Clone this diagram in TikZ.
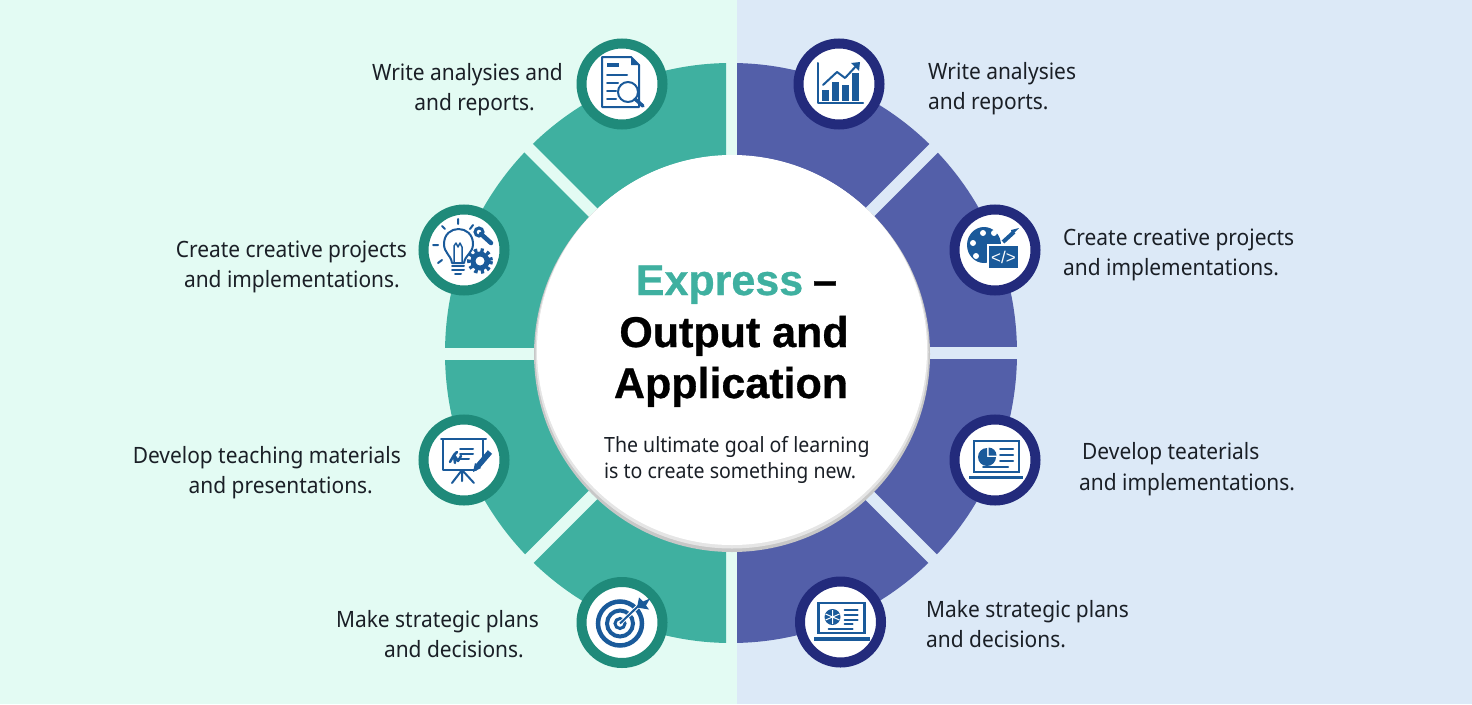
\documentclass[tikz,border=0pt]{standalone}
\usepackage{fontspec}
\setmainfont[FakeStretch=0.93]{Noto Sans}
\newfontfamily\titlefont[BoldFeatures={FakeBold=0.7}]{Liberation Sans}
\usepackage{xcolor}
\definecolor{mintbg}{HTML}{E3FBF3}
\definecolor{skybg}{HTML}{DCE9F7}
\definecolor{tealseg}{HTML}{3FB0A0}
\definecolor{blueseg}{HTML}{535FA9}
\definecolor{tealring}{HTML}{1F8A7A}
\definecolor{navyring}{HTML}{232B7C}
\definecolor{iconblue}{HTML}{1A5A9A}
\definecolor{inktext}{HTML}{1A1F26}
\tikzset{
  ringL/.style={circle,draw=tealring,fill=white,line width=10pt,minimum size=81pt,inner sep=0pt},
  ringR/.style={circle,draw=navyring,fill=white,line width=10pt,minimum size=81pt,inner sep=0pt},
  lineW/.style={anchor=base west,inner sep=0pt,text=inktext,font=\fontsize{22.5}{27}\selectfont},
  lineE/.style={anchor=base east,inner sep=0pt,text=inktext,font=\fontsize{22.5}{27}\selectfont},
  goalline/.style={anchor=base west,inner sep=0pt,text=inktext,font=\fontsize{21}{26}\selectfont},
  titleline/.style={anchor=base,inner sep=0pt,font=\titlefont\bfseries\fontsize{43}{50}\selectfont},
  gapL/.style={mintbg,line width=12pt},
  gapR/.style={skybg,line width=12pt},
  iconline/.style={iconblue,line width=2pt,line cap=round,line join=round},
  docicon/.pic={
    \draw[iconline] (9,-27) -- (-20,-27) -- (-20,23) -- (17,23) -- (17,-19) -- cycle;
    \fill[iconblue] (9,-27) -- (17,-19) -- (9,-19) -- cycle;
    \fill[iconblue] (-15,-21) rectangle (-3,-17);
    \draw[iconline] (-15,-9) -- (5,-9) (-15,-1) -- (-4,-1) (-15,7) -- (-6,7) (-15,15) -- (-6,15);
    \draw[iconline,fill=white] (6,8) circle (10);
    \draw[iconblue,line width=3.5pt,line cap=round] (13,15) -- (21,22);
  },
  bulbicon/.pic={
    \draw[iconline] (-12,13) .. controls (-13,5) and (-20,3) .. (-20,-6) .. controls (-20,-26) and (9,-26) .. (9,-6) .. controls (9,3) and (1,5) .. (0,13) -- cycle;
    \draw[iconline,line width=1.5pt] (-10,12) -- (-10,-4) -- (-8,-7) -- (-6,-3) -- (-4,-7) -- (-2,-3) -- (-2,12);
    \draw[iconline] (-12,16) -- (0,16) (-12,20) -- (0,20) (-9,24) -- (-3,24);
    \draw[iconline] (-6,-31) -- (-6,-26) (-22,-24) -- (-19,-21) (9,-25) -- (6,-21) (-31,-5) -- (-26,-5) (-26,13) -- (-22,10);
    \draw[iconblue,line width=4.5pt,line cap=round] (17,-16) -- (27,-7);
    \draw[iconblue,line width=3pt] (15,-18) circle (4);
    \draw[iconblue,line width=5pt,dash pattern=on 3.2pt off 3pt] (16,11) circle (10.5);
    \draw[iconblue,line width=5pt] (16,11) circle (7);
  },
  boardicon/.pic={
    \draw[iconline] (-23,-21) -- (22,-21);
    \draw[iconline] (-21,-21) -- (-21,10) -- (12,10) (19,-21) -- (19,-3);
    \draw[iconline] (-2,10) -- (-12,23) (-2,10) -- (10,23) (-2,10) -- (-2,21);
    \draw[iconline] (-4,-11) -- (9,-11) (-4,-6) -- (9,-6) (-4,-1) -- (5,-1);
    \draw[iconline,line width=2.5pt] (-14,2) -- (-10,-5) -- (-6,1) -- (-3,-4) (-9,3) -- (-10,-5) -- (-7,-8);
    \draw[iconblue,line width=5.5pt] (14,6) -- (26,-8);
    \fill[iconblue] (9,12) -- (11,3) -- (17,8) -- cycle;
  },
  targeticon/.pic={
    \draw[iconblue,line width=4.5pt] (-2,1) circle (22);
    \draw[iconblue,line width=4pt] (-2,1) circle (13);
    \draw[iconblue,line width=3pt] (-2,1) circle (5);
    \draw[white,line width=4pt] (-2,1) -- (20,-20);
    \draw[iconblue,line width=2pt] (-2,1) -- (20,-20);
    \fill[iconblue] (15,-15) -- (17,-25) -- (21,-21) -- (28,-24) -- (24,-17) -- (27,-13) -- cycle;
  },
  barsicon/.pic={
    \draw[iconline] (-21,-21) -- (-21,19) -- (24,19);
    \fill[iconblue] (-17,6) rectangle (-10,17);
    \fill[iconblue] (-7,-2) rectangle (0,17);
    \fill[iconblue] (3,1) rectangle (10,17);
    \fill[iconblue] (13,-11) rectangle (20,17);
    \draw[iconline] (-16,1) -- (-2,-12) -- (6,-6) -- (19,-20);
    \fill[iconblue] (21,-22) -- (12,-21) -- (20,-13) -- cycle;
  },
  paleticon/.pic={
    \fill[iconblue] (-11,-5) ellipse [x radius=17,y radius=18];
    \fill[white] (-1,-17) circle (3) (-12,-17) circle (3) (-22,-7) circle (3) (-19,6) circle (3);
    \fill[iconblue,draw=white,line width=2pt] (-7,-5) rectangle (24,19);
    \draw[iconblue,line width=4pt] (8,-8) -- (19,-18);
    \fill[iconblue] (17,-15) -- (24,-22) -- (16,-20) -- cycle;
    \node[text=white,inner sep=0pt,font=\titlefont\fontsize{17}{17}\selectfont] (codetag) at (8.5,7) {</>};
  },
  pieicon/.pic={
    \draw[iconblue,line width=2.5pt] (-21,12) -- (-21,-19) -- (24,-19) -- (24,12) -- cycle;
    \fill[iconblue] (-26,16) rectangle (28,19);
    \fill[iconblue] (-8,-3) -- ++(9,0) arc[start angle=0,end angle=270,radius=9] -- cycle;
    \fill[iconblue] (-6.5,-4.5) -- ++(0,-8) arc[start angle=-90,end angle=0,radius=8] -- cycle;
    \draw[iconline] (5,-11) -- (18,-11) (5,-5) -- (18,-5) (5,1) -- (18,1) (-12,7) -- (13,7);
  },
  dashicon/.pic={
    \draw[iconblue,line width=2.5pt] (-22,11) -- (-22,-19) -- (24,-19) -- (24,11) -- cycle;
    \fill[iconblue] (-27,15) rectangle (29,19);
    \fill[iconblue] (-8,-5) circle (8);
    \draw[white,line width=1pt] (-15,-8) -- (-1,-2) (-8,-12) -- (-8,2) (-15,-2) -- (-1,-8);
    \draw[iconline] (4,-12) -- (17,-12) (4,-7) -- (17,-7) (4,-2) -- (17,-2) (4,2) -- (12,2) (-12,7) -- (12,7);
  }
}
\begin{document}
\begin{tikzpicture}[x=1pt,y=-1pt]
  \useasboundingbox (0,0) rectangle (1472,704);
  % background halves
  \fill[mintbg] (0,0) rectangle (737,704);
  \fill[skybg] (737,0) rectangle (1472,704);
  % ring, cut in two
  \begin{scope}
    \clip (0,0) rectangle (726,704);
    \fill[tealseg] (731,353) ellipse [x radius=286,y radius=290];
  \end{scope}
  \begin{scope}
    \clip (737,0) rectangle (1472,704);
    \fill[blueseg] (731,353) ellipse [x radius=286,y radius=290];
  \end{scope}
  % gaps between the segments
  \draw[gapL] (430,353.5) -- (600,353.5);
  \draw[gapR] (860,352.5) -- (1030,352.5);
  \draw[gapL] (600,219.5) -- (510,129.5);
  \draw[gapR] (862,220) -- (952,130);
  \draw[gapL] (600,488) -- (510,578);
  \draw[gapR] (862,488) -- (952,578);
  % centre disc
  \fill[black!22] (732,354) circle (198);
  \fill[black!10] (732,352) circle (196.5);
  \fill[white] (732,350) circle (195);
  \node[titleline,text=tealseg] (expressword) at (719.5,295) {Express};
  \node[titleline] (titledash) at (825,295) {–};
  \node[titleline] (outputline) at (734,347) {Output and};
  \node[titleline] (appline) at (731,398) {Application};
  \node[goalline] (goalA) at (604,452) {The ultimate goal of learning};
  \node[goalline] (goalB) at (604,478) {is to create something new.};
  % icon rings
  \node[ringL] (iconA) at (622,84) {};
  \node[ringL] (iconB) at (464,250) {};
  \node[ringL] (iconC) at (464,460) {};
  \node[ringL] (iconD) at (622,622.5) {};
  \node[ringR] (iconE) at (839,84) {};
  \node[ringR] (iconF) at (995,250) {};
  \node[ringR] (iconG) at (995,460) {};
  \node[ringR] (iconH) at (840.5,622) {};
  \pic at (iconA) {docicon};
  \pic at (iconB) {bulbicon};
  \pic at (iconC) {boardicon};
  \pic at (iconD) {targeticon};
  \pic at (iconE) {barsicon};
  \pic at (iconF) {paleticon};
  \pic at (iconG) {pieicon};
  \pic at (iconH) {dashicon};
  % left labels
  \node[lineE] (labelAa) at (563,80) {Write analysies and};
  \node[lineE] (labelAb) at (535,110) {and reports.};
  \node[lineE] (labelBa) at (407,257) {Create creative projects};
  \node[lineE] (labelBb) at (400,287) {and implementations.};
  \node[lineE] (labelCa) at (401,463) {Develop teaching materials};
  \node[lineE] (labelCb) at (373,493) {and presentations.};
  \node[lineE] (labelDa) at (539,627) {Make strategic plans};
  \node[lineE] (labelDb) at (524,657) {and decisions.};
  % right labels
  \node[lineW] (labelEa) at (928,79) {Write analysies};
  \node[lineW] (labelEb) at (928,109) {and reports.};
  \node[lineW] (labelFa) at (1063,245) {Create creative projects};
  \node[lineW] (labelFb) at (1063,275) {and implementations.};
  \node[lineW] (labelGa) at (1082,459) {Develop teaterials};
  \node[lineW] (labelGb) at (1079,490) {and implementations.};
  \node[lineW] (labelHa) at (926,617) {Make strategic plans};
  \node[lineW] (labelHb) at (926,647) {and decisions.};
\end{tikzpicture}
\end{document}
